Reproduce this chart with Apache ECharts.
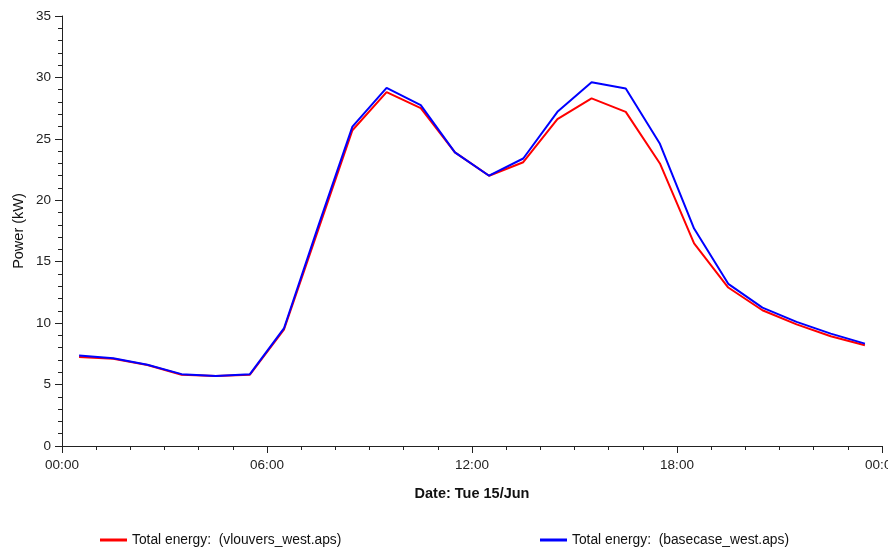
<!DOCTYPE html>
<html>
<head>
<meta charset="utf-8">
<script src="https://cdn.jsdelivr.net/npm/echarts@6/dist/echarts.min.js"></script>
<style>
html,body{margin:0;padding:0;background:#fff;}
#chart{width:888px;height:550px;}
</style>
</head>
<body>
<div id="chart"></div>
<script>
// Hours (half-hour midpoints)
const hours = [0.5,1.5,2.5,3.5,4.5,5.5,6.5,7.5,8.5,9.5,10.5,11.5,12.5,13.5,14.5,15.5,16.5,17.5,18.5,19.5,20.5,21.5,22.5,23.5];
const vlouvers = [7.25,7.1,6.6,5.8,5.7,5.8,9.5,17.6,25.7,28.8,27.5,23.9,22.0,23.1,26.6,28.3,27.2,23.0,16.5,12.9,11.05,9.9,8.93,8.2];
const basecase = [7.36,7.15,6.62,5.85,5.7,5.85,9.6,17.9,26.0,29.15,27.75,23.9,22.0,23.4,27.2,29.6,29.1,24.6,17.7,13.2,11.26,10.1,9.15,8.33];
const seriesNames = ['Total energy:  (vlouvers_west.aps)','Total energy:  (basecase_west.aps)'];
const xTickLabels = ['00:00','06:00','12:00','18:00','00:00'];

const font = '"Liberation Sans", Arial, sans-serif';
const chart = echarts.init(document.getElementById('chart'), null, {renderer:'canvas'});

function pairs(vals){ return hours.map((h,i)=>[h, vals[i]]); }

chart.setOption({
  animation:false,
  backgroundColor:'#fff',
  grid:{left:62, right:6, top:16, bottom:104, containLabel:false, outerBoundsMode:'none'},
  xAxis:{
    type:'value', min:0, max:24, interval:6,
    name:'Date: Tue 15/Jun', nameLocation:'middle', nameGap:40, nameMoveOverlap:false,
    nameTextStyle:{fontFamily:font, fontSize:14.5, fontWeight:'bold', color:'#111'},
    axisLine:{show:true, lineStyle:{color:'#222', width:1}},
    axisTick:{show:true, length:7, lineStyle:{color:'#222'}},
    minorTick:{show:true, splitNumber:6, length:4, lineStyle:{color:'#222'}},
    splitLine:{show:false},
    axisLabel:{fontFamily:font, fontSize:13.5, color:'#222', margin:12, hideOverlap:false,
      showMinLabel:true, showMaxLabel:true,
      formatter:(v)=>xTickLabels[Math.round(v/6)]}
  },
  yAxis:{
    type:'value', min:0, max:35, interval:5,
    name:'Power (kW)', nameLocation:'middle', nameGap:36, nameMoveOverlap:false,
    nameTextStyle:{fontFamily:font, fontSize:14.5, color:'#111'},
    axisLine:{show:true, lineStyle:{color:'#222', width:1}},
    axisTick:{show:true, length:7, lineStyle:{color:'#222'}},
    minorTick:{show:true, splitNumber:5, length:4, lineStyle:{color:'#222'}},
    splitLine:{show:false},
    axisLabel:{fontFamily:font, fontSize:13.5, color:'#222', margin:11}
  },
  legend:[
    {data:[seriesNames[0]], left:100, top:533, itemWidth:27, itemHeight:3, icon:'rect', padding:0,
     textStyle:{fontFamily:font, fontSize:13.8, color:'#111'}},
    {data:[seriesNames[1]], left:540, top:533, itemWidth:27, itemHeight:3, icon:'rect', padding:0,
     textStyle:{fontFamily:font, fontSize:13.8, color:'#111'}}
  ],
  series:[
    {name:seriesNames[0], type:'line', data:pairs(vlouvers), showSymbol:false, symbol:'none',
     lineStyle:{color:'#ff0000', width:2}, itemStyle:{color:'#ff0000'}},
    {name:seriesNames[1], type:'line', data:pairs(basecase), showSymbol:false, symbol:'none',
     lineStyle:{color:'#0000ff', width:2}, itemStyle:{color:'#0000ff'}}
  ]
});
</script>
</body>
</html>
